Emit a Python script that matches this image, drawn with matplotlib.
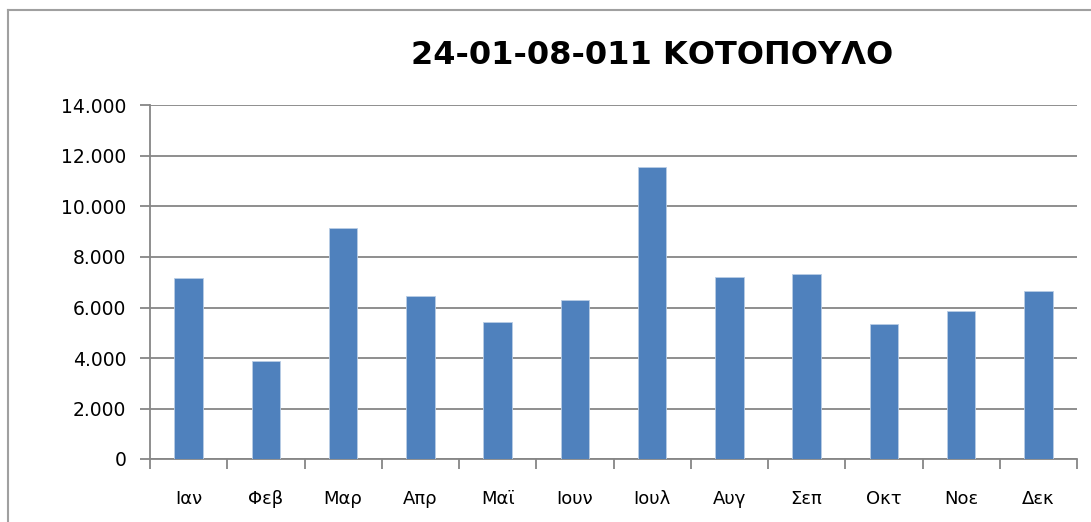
import matplotlib
matplotlib.use('Agg')
import matplotlib.pyplot as plt
from matplotlib.ticker import FuncFormatter
from matplotlib.lines import Line2D
import numpy as np

plt.rcParams['font.family'] = ['DejaVu Sans']

months = ['Ιαν', 'Φεβ', 'Μαρ', 'Απρ', 'Μαϊ', 'Ιουν',
          'Ιουλ', 'Αυγ', 'Σεπ', 'Οκτ', 'Νοε', 'Δεκ']
values = [7150, 3890, 9160, 6470, 5430, 6290,
          11570, 7210, 7340, 5365, 5850, 6655]
title = '24-01-08-011 ΚΟΤΟΠΟΥΛΟ'

grey = '#868686'

fig = plt.figure(figsize=(10.91, 5.22), dpi=100)
ax = fig.add_axes([150/1091, 1 - 459/522, 927/1091, 353.5/522])

x = np.arange(len(months))
ax.bar(x, values, width=0.37, color='#4F81BD', edgecolor='#b9cde5',
       linewidth=0.6, zorder=3)

ax.set_xlim(-0.5, len(months) - 0.5)
ax.set_ylim(0, 14000)
ax.set_yticks(np.arange(0, 14001, 2000))
ax.yaxis.set_major_formatter(FuncFormatter(lambda v, p: f'{int(v):,}'.replace(',', '.')))

# boundary ticks between months, labels centred on each bar
ax.set_xticks(np.arange(-0.5, len(months), 1))
ax.set_xticklabels([])
ax.set_xticks(x, minor=True)
ax.set_xticklabels(months, minor=True, fontsize=13)
ax.tick_params(axis='x', which='minor', length=0, pad=22)
ax.tick_params(axis='x', which='major', length=7, width=1.3, color=grey, direction='out')
ax.tick_params(axis='y', length=7, width=1.3, color=grey, labelsize=13.5, pad=10)

ax.grid(axis='y', color=grey, linewidth=1.3, zorder=0)
for s in ['top', 'right']:
    ax.spines[s].set_visible(False)
for s in ['left', 'bottom']:
    ax.spines[s].set_color(grey)
    ax.spines[s].set_linewidth(1.3)

fig.text(652/1091, 1 - 55/522, title, ha='center', va='center',
         fontsize=23, fontweight='bold')

# chart area border (top and left edges visible)
fig.add_artist(Line2D([8/1091, 1], [1 - 10/522] * 2, color='#a0a0a0', linewidth=1.5))
fig.add_artist(Line2D([8/1091] * 2, [0, 1 - 10/522], color='#a0a0a0', linewidth=1.5))

fig.savefig('out.png', dpi=100)
